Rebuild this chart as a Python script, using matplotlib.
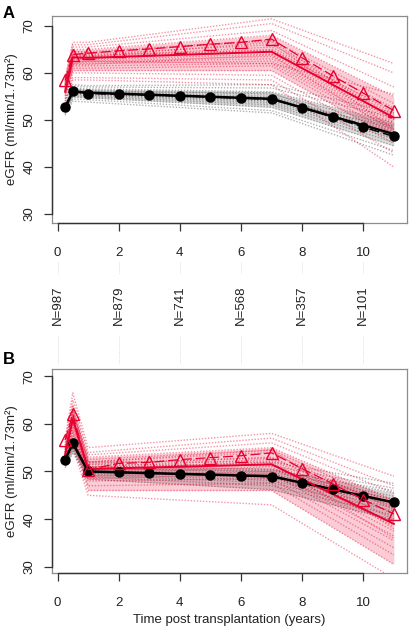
import matplotlib
matplotlib.use("Agg")
import matplotlib.pyplot as plt
import matplotlib.transforms as mtransforms

plt.rcParams['font.family'] = ['Liberation Sans', 'DejaVu Sans']

# ---------------- data ----------------
times = [0.25, 0.5, 1, 2, 3, 4, 5, 6, 7, 8, 9, 10, 11]
knots = [0.25, 0.5, 1, 7, 11]

# Panel A observed means
A_red_obs = [58.4, 63.9, 64.2, 64.7, 65.1, 65.6, 66.1, 66.5, 67.2, 63.2, 59.4, 55.7, 52.0]
A_black_obs = [52.7, 56.1, 55.6, 55.5, 55.3, 55.1, 54.9, 54.6, 54.4, 52.6, 50.6, 48.5, 46.5]
# Panel A model means (at knots)
A_red_fit = [56.0, 63.3, 63.2, 64.5, 50.5]
A_black_fit = [52.7, 56.0, 55.8, 54.5, 47.0]
# Panel A individual trajectories (at knots)
A_red_lines = [
    [59.0, 66.5, 66.5, 71.5, 62.0], [58.8, 66.0, 66.0, 70.5, 60.0],
    [58.5, 65.5, 65.5, 69.0, 57.0], [58.2, 65.0, 65.0, 68.0, 55.0],
    [58.0, 64.5, 64.5, 67.0, 53.5], [57.8, 64.0, 64.0, 66.0, 52.5],
    [57.5, 63.5, 63.5, 65.5, 51.5], [57.3, 63.5, 63.3, 65.0, 51.0],
    [57.0, 63.0, 63.0, 64.5, 50.5], [56.8, 63.0, 62.8, 64.0, 50.0],
    [56.5, 62.5, 62.5, 63.5, 49.5], [56.3, 62.5, 62.3, 63.0, 49.0],
    [56.0, 62.0, 62.0, 62.5, 48.5], [55.8, 61.5, 61.5, 62.0, 48.0],
    [55.5, 61.0, 61.0, 61.5, 47.0], [55.2, 60.5, 60.5, 60.5, 46.0],
    [55.0, 60.0, 60.0, 59.5, 45.0], [54.5, 59.0, 59.0, 58.5, 43.0],
    [54.0, 58.5, 58.5, 57.5, 40.0], [56.5, 64.0, 63.5, 66.5, 48.0],
    [57.0, 62.0, 62.5, 62.0, 55.5], [57.6, 63.8, 63.8, 64.8, 52.0],
    [56.2, 61.8, 61.8, 63.8, 47.5], [57.4, 64.6, 64.2, 66.8, 50.0],
]
A_black_lines = [
    [54.5, 57.5, 57.3, 57.5, 51.5], [54.0, 57.2, 57.0, 56.8, 50.5],
    [53.5, 56.8, 56.6, 56.0, 49.5], [53.2, 56.5, 56.3, 55.5, 48.8],
    [53.0, 56.3, 56.1, 55.0, 48.0], [52.8, 56.1, 55.9, 54.7, 47.5],
    [52.6, 55.9, 55.7, 54.4, 47.0], [52.4, 55.7, 55.5, 54.0, 46.5],
    [52.2, 55.5, 55.3, 53.6, 46.0], [52.0, 55.2, 55.0, 53.2, 45.3],
    [51.7, 54.9, 54.7, 52.7, 44.5], [51.3, 54.5, 54.3, 52.0, 43.5],
    [51.0, 54.0, 53.8, 51.5, 42.5], [53.0, 56.5, 56.0, 55.8, 46.0],
    [52.5, 55.8, 55.6, 54.2, 48.5],
]

# Panel B observed means
B_red_obs = [56.6, 62.0, 50.4, 51.7, 51.9, 52.5, 52.9, 53.3, 53.9, 50.6, 47.4, 44.1, 41.1]
B_black_obs = [52.5, 55.9, 50.0, 49.8, 49.6, 49.5, 49.3, 49.1, 48.9, 47.6, 46.4, 44.9, 43.5]
B_red_fit = [53.5, 61.0, 50.5, 51.5, 39.0]
B_black_fit = [52.5, 55.9, 50.0, 49.0, 43.5]
B_red_lines = [
    [57.0, 66.5, 55.0, 58.0, 49.0], [56.5, 65.0, 54.0, 57.0, 47.0],
    [56.0, 64.0, 53.5, 56.0, 45.5], [55.5, 63.0, 53.0, 55.0, 44.0],
    [55.0, 62.5, 52.5, 54.5, 43.0], [55.0, 62.0, 52.0, 54.0, 42.0],
    [54.5, 61.5, 51.5, 53.0, 41.0], [54.5, 61.0, 51.0, 52.5, 40.0],
    [54.0, 60.5, 50.5, 52.0, 39.0], [54.0, 60.0, 50.0, 51.5, 38.5],
    [53.5, 59.5, 49.5, 51.0, 37.5], [53.5, 59.0, 49.0, 50.0, 36.5],
    [53.0, 58.5, 48.5, 49.5, 35.5], [53.0, 58.0, 48.0, 48.5, 34.0],
    [52.5, 57.0, 47.0, 47.5, 32.5], [52.0, 56.0, 46.0, 46.0, 30.5],
    [51.5, 55.0, 45.0, 43.0, 27.5], [54.0, 63.5, 52.0, 54.5, 38.0],
    [53.5, 60.0, 51.0, 50.5, 44.0], [54.8, 62.8, 51.8, 52.8, 42.5],
    [53.8, 60.8, 50.8, 51.8, 36.0], [54.2, 61.2, 49.8, 49.0, 39.5],
]
B_black_lines = [
    [54.0, 57.5, 52.0, 52.0, 47.5], [53.6, 57.0, 51.5, 51.2, 46.5],
    [53.2, 56.5, 51.0, 50.5, 45.5], [52.9, 56.2, 50.6, 49.9, 44.8],
    [52.6, 55.9, 50.3, 49.4, 44.2], [52.4, 55.7, 50.1, 49.0, 43.6],
    [52.2, 55.5, 49.9, 48.6, 43.0], [51.9, 55.2, 49.6, 48.1, 42.4],
    [51.6, 54.9, 49.3, 47.6, 41.7], [51.2, 54.5, 48.9, 47.0, 40.8],
    [50.8, 54.0, 48.4, 46.2, 39.8], [52.8, 56.0, 50.5, 50.2, 46.0],
]

xticks = [0, 2, 4, 6, 8, 10]
n_labels = ['N=987', 'N=879', 'N=741', 'N=568', 'N=357', 'N=101']
yticks = [30, 40, 50, 60, 70]

RED = '#E8002E'
GREY = '#444444'

fig = plt.figure(figsize=(4.10, 6.32), dpi=100)
axA = fig.add_axes([52/410, 1-223/632, 355/410, 207/632])
axB = fig.add_axes([52/410, 1-573/632, 355/410, 204/632])


def draw_panel(ax, red_lines, black_lines, red_fit, black_fit, red_obs, black_obs, ylim):
    # dense core of each bundle (between inner trajectories)
    ax.fill_between(knots, black_lines[2], black_lines[10], color=GREY, alpha=0.2,
                    lw=0, zorder=1)
    for ln in black_lines:
        ax.plot(knots, ln, color=GREY, lw=1.0, alpha=0.42, ls=(0, (1, 1.2)), zorder=1)
    ax.fill_between(knots, red_lines[3], red_lines[15], color=RED, alpha=0.2,
                    lw=0, zorder=2)
    for ln in red_lines:
        ax.plot(knots, ln, color=RED, lw=1.0, alpha=0.42, ls=(0, (1, 1.2)), zorder=2)
    ax.plot(knots, black_fit, color='black', lw=1.8, zorder=3)
    ax.plot(knots, red_fit, color=RED, lw=1.4, zorder=3)
    ax.plot(times, black_obs, color='black', lw=1.0, dashes=(7, 3), marker='o',
            ms=6.5, mfc='black', mec='black', zorder=4)
    ax.plot(times, red_obs, color=RED, lw=0.9, dashes=(8, 3), marker='^',
            ms=8.5, mfc='none', mec=RED, mew=1.0, zorder=5)
    ax.set_xlim(-0.18, 11.43)
    ax.set_ylim(*ylim)
    ax.set_yticks(yticks)
    ax.set_yticklabels([str(v) for v in yticks], rotation=90, va='center', fontsize=9.5,
                       color='#222222')
    ax.set_xticks(xticks)
    ax.set_xticklabels([str(v) for v in xticks], fontsize=9.5, color='#222222')
    ax.tick_params(axis='x', length=6, width=0.9, pad=11, color='#333333')
    ax.tick_params(axis='y', length=6, width=0.9, pad=6, color='#333333')
    for s in ax.spines.values():
        s.set_color('#8c8c8c')
        s.set_linewidth(0.9)
    tx = mtransforms.blended_transform_factory(ax.transData, ax.transAxes)
    ty = mtransforms.blended_transform_factory(ax.transAxes, ax.transData)
    ax.plot([0, 10], [0, 0], transform=tx, color='#333333', lw=1.0, clip_on=False, zorder=6)
    ax.plot([0, 0], [30, 70], transform=ty, color='#333333', lw=1.0, clip_on=False, zorder=6)
    ax.set_ylabel('eGFR (ml/min/1.73m²)', fontsize=9.5, color='#222222', labelpad=4)


draw_panel(axA, A_red_lines, A_black_lines, A_red_fit, A_black_fit, A_red_obs, A_black_obs, (28.1, 72.1))
draw_panel(axB, B_red_lines, B_black_lines, B_red_fit, B_black_fit, B_red_obs, B_black_obs, (28.7, 71.5))

# N at risk labels under panel A
txA = mtransforms.blended_transform_factory(axA.transData, axA.transAxes)
for x, lab in zip(xticks, n_labels):
    axA.plot([x, x], [-0.188, -0.676], transform=txA, color='#d0d0d0', lw=0.6,
             ls=(0, (1, 1.5)), clip_on=False, zorder=0)
    axA.text(x, -0.396, lab, transform=txA, rotation=90, ha='center', va='center',
             fontsize=9.5, color='#222222', zorder=7,
             bbox=dict(fc='white', ec='none', pad=8))

axB.set_xlabel('Time post transplantation (years)', fontsize=9.5, color='#222222', labelpad=4)

fig.text(3/410, 1-13/632, 'A', fontsize=12, fontweight='bold', va='center', ha='left')
fig.text(3/410, 1-360/632, 'B', fontsize=12, fontweight='bold', va='center', ha='left')

fig.savefig('out.png', dpi=100)
